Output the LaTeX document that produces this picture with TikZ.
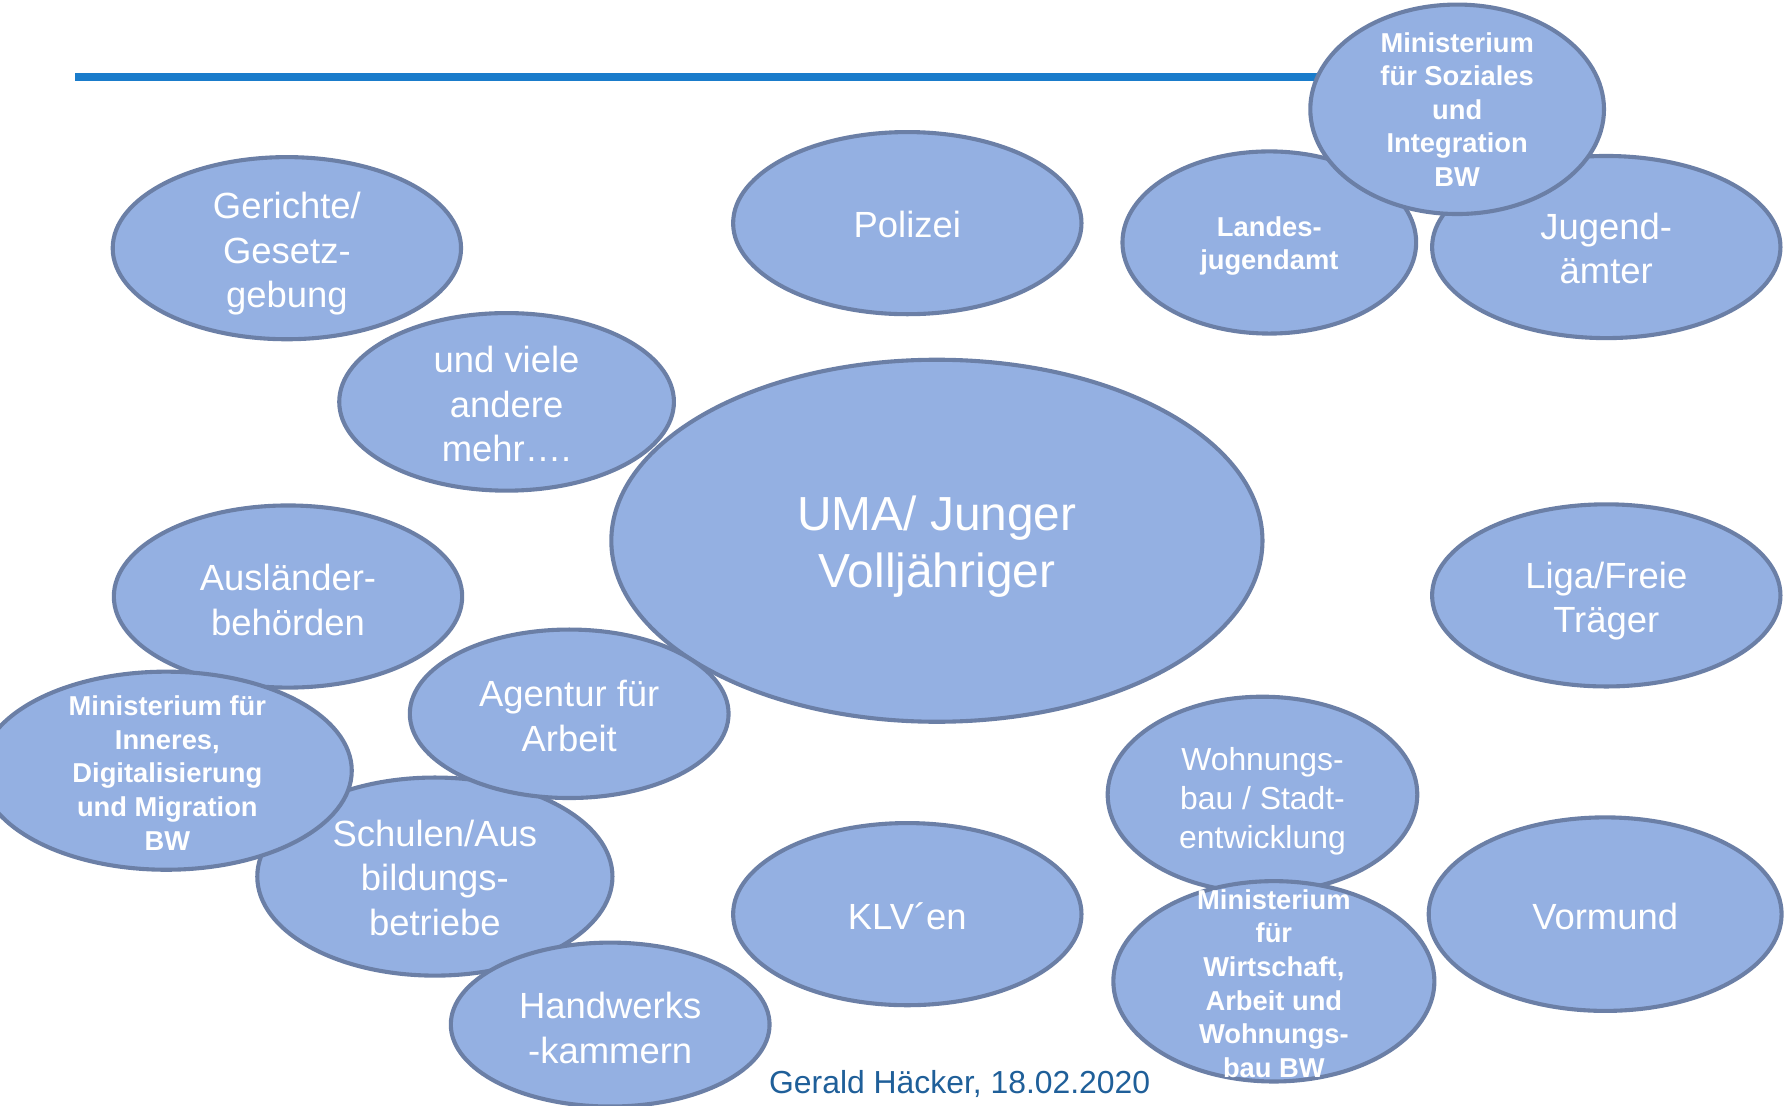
\documentclass[tikz,border=0pt]{standalone}
\usepackage{fontspec}
\setmainfont{Liberation Sans}
\usetikzlibrary{shapes.geometric}
\definecolor{ellfill}{HTML}{94B0E2}
\definecolor{elldraw}{HTML}{6B7FA6}
\definecolor{rulecol}{HTML}{1A7CCB}
\definecolor{footcol}{HTML}{1F5F99}
\tikzset{
  ell/.style={ellipse, draw=elldraw, fill=ellfill, line width=1.8pt, inner sep=0pt},
  txt/.style={text=white, align=center, inner sep=0pt},
  reg/.style={txt, font=\fontsize{16}{19.5}\selectfont},
  big/.style={txt, font=\fontsize{21}{25}\selectfont},
  smalltxt/.style={txt, font=\fontsize{14}{17}\selectfont},
  boldtxt/.style={txt, font=\fontsize{12}{14.75}\selectfont\bfseries},
}
\begin{document}
\begin{tikzpicture}[x=0.5pt, y=-0.5pt]
\useasboundingbox (0,0) rectangle (1568,970.7);
% top rule
\coordinate (r1) at (66,67.5);
\coordinate (r2) at (1170,67.5);
\draw[rulecol, line width=3.5pt] (r1) -- (r2);
% ellipses
\node[ell, minimum width=153pt, minimum height=80pt] (ger) at (252,218) {};
\node[ell, minimum width=147pt, minimum height=78pt] (und) at (445,353) {};
\node[ell, minimum width=153pt, minimum height=80pt] (pol) at (797,196) {};
\node[ell, minimum width=153pt, minimum height=80pt] (jug) at (1411,217) {};
\node[ell, minimum width=129pt, minimum height=80pt] (lja) at (1115,213) {};
\node[ell, minimum width=129pt, minimum height=92pt] (soz) at (1280,96) {};
\node[ell, minimum width=286pt, minimum height=159pt] (uma) at (823,475) {};
\node[ell, minimum width=153pt, minimum height=80pt] (aus) at (253,524) {};
\node[ell, minimum width=153pt, minimum height=80pt] (liga) at (1411,523) {};
\node[ell, minimum width=156pt, minimum height=87pt] (sch) at (382,770) {};
\node[ell, minimum width=140pt, minimum height=74pt] (agt) at (500,627) {};
\node[ell, minimum width=163pt, minimum height=87pt] (inn) at (146,677) {};
\node[ell, minimum width=140pt, minimum height=72pt] (hwk) at (536,900) {};
\node[ell, minimum width=153pt, minimum height=80pt] (klv) at (797,803) {};
\node[ell, minimum width=136pt, minimum height=86pt] (woh) at (1109,698) {};
\node[ell, minimum width=141pt, minimum height=88pt] (wir) at (1119,862) {};
\node[ell, minimum width=155pt, minimum height=85pt] (vor) at (1410,803) {};
% texts
\node[reg] (ger-t) at (252,223) {Gerichte/\\Gesetz-\\gebung};
\node[reg] (und-t) at (445,355) {und viele\\andere\\mehr….};
\node[reg] (pol-t) at (797,197) {Polizei};
\node[reg] (jug-t) at (1411,218) {Jugend-\\ämter};
\node[boldtxt] (lja-t) at (1115,216) {Landes-\\jugendamt};
\node[boldtxt] (soz-t) at (1280,96) {Ministerium\\für Soziales\\und\\Integration\\BW};
\node[big] (uma-t) at (823,480) {UMA/ Junger\\Volljähriger};
\node[reg] (aus-t) at (253,527) {Ausländer-\\behörden};
\node[reg] (liga-t) at (1411,528) {Liga/Freie\\Träger};
\node[reg] (sch-t) at (382,771) {Schulen/Aus\\bildungs-\\betriebe};
\node[reg] (agt-t) at (500,629) {Agentur für\\Arbeit};
\node[boldtxt] (inn-t) at (147,679) {Ministerium für\\Inneres,\\Digitalisierung\\und Migration\\BW};
\node[reg] (hwk-t) at (536,903) {Handwerks\\-kammern};
\node[reg] (klv-t) at (797,805) {KLV´en};
\node[smalltxt] (woh-t) at (1109,704) {Wohnungs-\\bau / Stadt-\\entwicklung};
\node[boldtxt] (wir-t) at (1119,864) {Ministerium\\für\\Wirtschaft,\\Arbeit und\\Wohnungs-\\bau BW};
\node[reg] (vor-t) at (1410,805) {Vormund};
% footer
\node[text=footcol, inner sep=0pt, font=\fontsize{14}{17}\selectfont] (foot) at (843,952) {Gerald Häcker, 18.02.2020};
\end{tikzpicture}
\end{document}
